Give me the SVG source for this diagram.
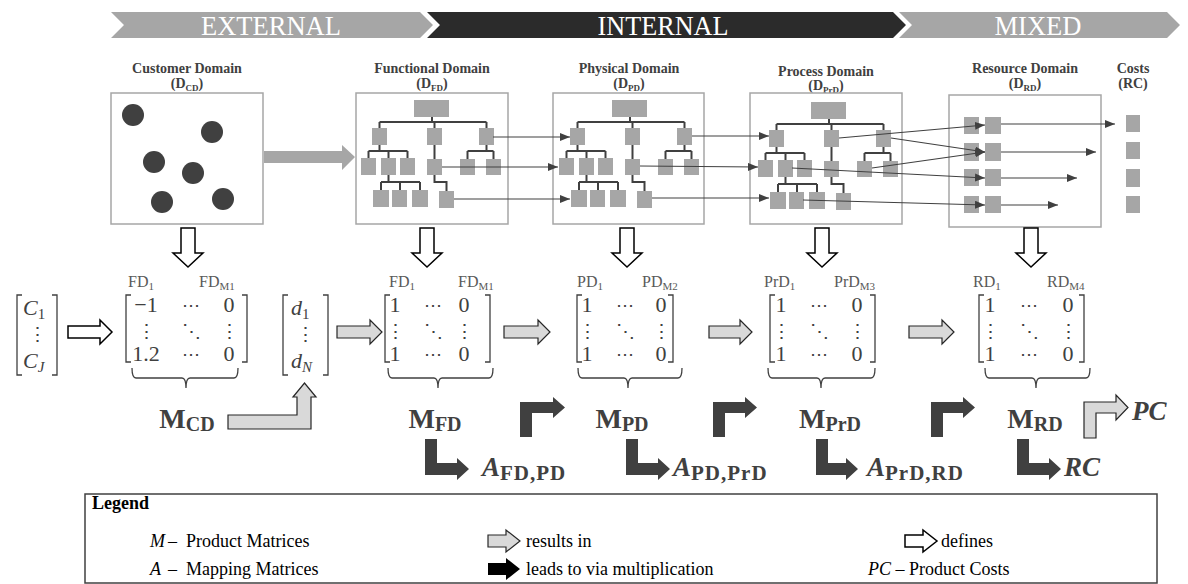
<svg xmlns="http://www.w3.org/2000/svg" width="1188" height="584" viewBox="0 0 1188 584">
<style>
.box{fill:#fff;stroke:#a6a6a6;stroke-width:1.5}
.nd{fill:#a6a6a6}
.ln{stroke:#404040;stroke-width:2;fill:none}
.ar{stroke:#404040;stroke-width:1.2;fill:none;marker-end:url(#ah)}
.hdr{font-family:"Liberation Serif",serif;font-weight:bold;font-size:14px;fill:#404040;text-anchor:middle}
.ban{font-family:"Liberation Serif",serif;font-size:28px;fill:#fff;text-anchor:middle}
.mx{font-family:"Liberation Serif","DejaVu Serif",serif;font-size:22px;fill:#404040;text-anchor:middle}
.dots{font-family:"DejaVu Serif",serif;font-size:18px;fill:#404040;text-anchor:middle}
.vd{font-family:"DejaVu Serif",serif;font-size:19px;fill:#404040;text-anchor:middle}
.vi{font-family:"Liberation Serif",serif;font-style:italic;font-size:22px;fill:#404040}
.lab{font-family:"Liberation Serif",serif;font-size:16px;fill:#595959}
.ml{font-family:"Liberation Serif",serif;font-weight:bold;font-size:28px;fill:#404040;text-anchor:middle}
.al{font-family:"Liberation Serif",serif;font-weight:bold;font-size:27px;fill:#404040}
.br{stroke:#404040;stroke-width:1.3;fill:none}
.def{fill:#fff;stroke:#000;stroke-width:1.5}
.res{fill:#d9d9d9;stroke:#262626;stroke-width:1.2}
.mul{fill:#404040}
.lg{font-family:"Liberation Serif",serif;font-size:18px;fill:#000}
</style>
<defs>
<marker id="ah" viewBox="0 0 10 8" refX="10" refY="4" markerWidth="10" markerHeight="8" markerUnits="userSpaceOnUse" orient="auto"><path d="M0,0 L10,4 L0,8 z" fill="#404040"/></marker>
<g id="tree">
<path class="ln" d="M432,117V122 M379.5,122H486.5 M379.5,122V128 M434.5,122V128 M486.5,122V128 M379.5,145V151 M368.5,151H407.5 M368.5,151V158 M388.5,151V158 M407.5,151V158 M434.5,145V159 M486.5,145V151 M467.5,151H493.5 M467.5,151V159 M493.5,151V159 M388.5,175V182 M381,182H420 M381,182V190 M400,182V190 M420,182V190 M434.5,175V182H446.5V191"/>
<rect class="nd" x="414" y="100" width="35" height="17"/>
<rect class="nd" x="372" y="128" width="15" height="17"/>
<rect class="nd" x="427" y="128" width="15" height="17"/>
<rect class="nd" x="479" y="128" width="15" height="17"/>
<rect class="nd" x="361" y="158" width="15" height="17"/>
<rect class="nd" x="381" y="158" width="15" height="17"/>
<rect class="nd" x="400" y="158" width="15" height="17"/>
<rect class="nd" x="427" y="159" width="15" height="16"/>
<rect class="nd" x="460" y="159" width="15" height="16"/>
<rect class="nd" x="486" y="159" width="15" height="16"/>
<rect class="nd" x="373" y="190" width="16" height="17"/>
<rect class="nd" x="392" y="190" width="15" height="17"/>
<rect class="nd" x="412" y="190" width="16" height="17"/>
<rect class="nd" x="439" y="191" width="15" height="17"/>
</g>
</defs>
<rect width="1188" height="584" fill="#fff"/>

<g id="banner">
<polygon points="111,12 420,12 433,25 420,38 111,38 124,25" fill="#a6a6a6"/>
<polygon points="427,12 893,12 906,25 893,38 427,38 440,25" fill="#2b2b2b"/>
<polygon points="899,12 1167,12 1180,25 1167,38 899,38 912,25" fill="#a6a6a6"/>
<text class="ban" x="271" y="35" textLength="140" lengthAdjust="spacingAndGlyphs">EXTERNAL</text>
<text class="ban" x="663" y="35" textLength="131" lengthAdjust="spacingAndGlyphs">INTERNAL</text>
<text class="ban" x="1038" y="35" textLength="87" lengthAdjust="spacingAndGlyphs">MIXED</text>
</g>

<g id="customer-domain">
<text class="hdr" x="187" y="73">Customer Domain</text>
<text class="hdr" x="187" y="88">(D<tspan font-size="9" dy="3">CD</tspan><tspan dy="-3">)</tspan></text>
<rect class="box" x="111" y="93" width="152" height="131"/>
<g fill="#404040">
<circle cx="133" cy="115" r="11"/><circle cx="212" cy="132" r="11"/><circle cx="154" cy="162" r="11"/>
<circle cx="193" cy="173" r="11"/><circle cx="162" cy="202" r="11"/><circle cx="223" cy="199" r="11"/>
</g>
</g>

<g id="functional-domain">
<text class="hdr" x="432" y="73">Functional Domain</text>
<text class="hdr" x="432" y="88">(D<tspan font-size="9" dy="3">FD</tspan><tspan dy="-3">)</tspan></text>
<rect class="box" x="356" y="93" width="152" height="131"/>
<use href="#tree"/>
</g>

<g id="physical-domain">
<text class="hdr" x="629" y="73">Physical Domain</text>
<text class="hdr" x="629" y="88">(D<tspan font-size="9" dy="3">PD</tspan><tspan dy="-3">)</tspan></text>
<rect class="box" x="553" y="93" width="151" height="131"/>
<use href="#tree" transform="translate(198,0)"/>
</g>

<g id="process-domain">
<text class="hdr" x="826" y="76">Process Domain</text>
<text class="hdr" x="826" y="90">(D<tspan font-size="9" dy="3">PrD</tspan><tspan dy="-3">)</tspan></text>
<rect class="box" x="750" y="93" width="152" height="131"/>
<use href="#tree" transform="translate(397,2)"/>
</g>

<g id="resource-domain">
<text class="hdr" x="1025" y="73">Resource Domain</text>
<text class="hdr" x="1025" y="88">(D<tspan font-size="9" dy="3">RD</tspan><tspan dy="-3">)</tspan></text>
<rect class="box" x="949" y="95" width="152" height="132"/>
<rect class="nd" x="964" y="117" width="15" height="17"/><rect class="nd" x="985" y="117" width="16" height="17"/>
<rect class="nd" x="964" y="143" width="15" height="18"/><rect class="nd" x="985" y="143" width="16" height="18"/>
<rect class="nd" x="964" y="169" width="15" height="17"/><rect class="nd" x="985" y="169" width="16" height="17"/>
<rect class="nd" x="964" y="196" width="15" height="17"/><rect class="nd" x="985" y="196" width="16" height="17"/>
</g>

<g id="costs">
<text class="hdr" x="1133" y="73">Costs</text>
<text class="hdr" x="1133" y="88">(RC)</text>
<rect class="nd" x="1126" y="115" width="14" height="17"/>
<rect class="nd" x="1126" y="142" width="14" height="17"/>
<rect class="nd" x="1126" y="169" width="14" height="18"/>
<rect class="nd" x="1126" y="196" width="14" height="17"/>
</g>

<g id="vector-c">
<path class="br" d="M22,295H17V375H22 M52,295H57V375H52"/>
<text class="vi" x="23" y="315">C<tspan font-style="normal" font-size="15" dy="4">1</tspan></text>
<text class="vd" x="37" y="341">⋮</text>
<text class="vi" x="23" y="368">C<tspan font-size="15" dy="4">J</tspan></text>
</g>

<g id="matrix-cd">
<text class="lab" x="128" y="287">FD<tspan font-size="11" dy="3">1</tspan></text>
<text class="lab" x="199" y="287">FD<tspan font-size="11" dy="3">M1</tspan></text>
<path class="br" d="M131,295H126V362H131 M242,295H247V362H242"/>
<text class="mx" x="146" y="312">−1</text><text class="dots" x="191" y="311">⋯</text><text class="mx" x="229" y="312">0</text>
<text class="vd" x="146" y="338">⋮</text><text class="vd" x="191" y="338">⋱</text><text class="vd" x="229" y="338">⋮</text>
<text class="mx" x="146" y="361">1.2</text><text class="dots" x="191" y="360">⋯</text><text class="mx" x="229" y="361">0</text>
<path class="br" d="M132,368Q132,378 136,378H182Q186,378 186,388Q186,378 190,378H234Q238,378 238,368"/>
<text class="ml" x="187" y="428">M<tspan font-size="20" dy="3">CD</tspan></text>
</g>

<g id="vector-d">
<path class="br" d="M288,295H283V375H288 M323,295H328V375H323"/>
<text class="vi" x="291" y="315">d<tspan font-style="normal" font-size="15" dy="4">1</tspan></text>
<text class="vd" x="305" y="341">⋮</text>
<text class="vi" x="291" y="368">d<tspan font-size="15" dy="4">N</tspan></text>
</g>

<g id="matrix-fd">
<text class="lab" x="389" y="287">FD<tspan font-size="11" dy="3">1</tspan></text>
<text class="lab" x="458" y="287">FD<tspan font-size="11" dy="3">M1</tspan></text>
<path class="br" d="M390,295H385V362H390 M485,295H490V362H485"/>
<text class="mx" x="395" y="312">1</text><text class="dots" x="433" y="311">⋯</text><text class="mx" x="464" y="312">0</text>
<text class="vd" x="395" y="338">⋮</text><text class="vd" x="433" y="338">⋱</text><text class="vd" x="464" y="338">⋮</text>
<text class="mx" x="395" y="361">1</text><text class="dots" x="433" y="360">⋯</text><text class="mx" x="464" y="361">0</text>
<path class="br" d="M388,368Q388,378 392,378H434Q438,378 438,388Q438,378 442,378H489Q493,378 493,368"/>
<text class="ml" x="435" y="428">M<tspan font-size="20" dy="3">FD</tspan></text>
</g>

<g id="matrix-pd">
<text class="lab" x="577" y="287">PD<tspan font-size="11" dy="3">1</tspan></text>
<text class="lab" x="642" y="287">PD<tspan font-size="11" dy="3">M2</tspan></text>
<path class="br" d="M582,295H577V362H582 M668,295H673V362H668"/>
<text class="mx" x="587" y="312">1</text><text class="dots" x="625" y="311">⋯</text><text class="mx" x="661" y="312">0</text>
<text class="vd" x="587" y="338">⋮</text><text class="vd" x="625" y="338">⋱</text><text class="vd" x="661" y="338">⋮</text>
<text class="mx" x="587" y="361">1</text><text class="dots" x="625" y="360">⋯</text><text class="mx" x="661" y="361">0</text>
<path class="br" d="M578,368Q578,378 582,378H624Q628,378 628,388Q628,378 632,378H678Q682,378 682,368"/>
<text class="ml" x="622" y="428">M<tspan font-size="20" dy="3">PD</tspan></text>
</g>

<g id="matrix-prd">
<text class="lab" x="764" y="287">PrD<tspan font-size="11" dy="3">1</tspan></text>
<text class="lab" x="834" y="287">PrD<tspan font-size="11" dy="3">M3</tspan></text>
<path class="br" d="M775,295H770V362H775 M870,295H875V362H870"/>
<text class="mx" x="781" y="312">1</text><text class="dots" x="819" y="311">⋯</text><text class="mx" x="857" y="312">0</text>
<text class="vd" x="781" y="338">⋮</text><text class="vd" x="819" y="338">⋱</text><text class="vd" x="857" y="338">⋮</text>
<text class="mx" x="781" y="361">1</text><text class="dots" x="819" y="360">⋯</text><text class="mx" x="857" y="361">0</text>
<path class="br" d="M768,368Q768,378 772,378H817Q821,378 821,388Q821,378 825,378H871Q875,378 875,368"/>
<text class="ml" x="830" y="428">M<tspan font-size="20" dy="3">PrD</tspan></text>
</g>

<g id="matrix-rd">
<text class="lab" x="973" y="287">RD<tspan font-size="11" dy="3">1</tspan></text>
<text class="lab" x="1047" y="287">RD<tspan font-size="11" dy="3">M4</tspan></text>
<path class="br" d="M984,295H979V362H984 M1079,295H1084V362H1079"/>
<text class="mx" x="990" y="312">1</text><text class="dots" x="1029" y="311">⋯</text><text class="mx" x="1068" y="312">0</text>
<text class="vd" x="990" y="338">⋮</text><text class="vd" x="1029" y="338">⋱</text><text class="vd" x="1068" y="338">⋮</text>
<text class="mx" x="990" y="361">1</text><text class="dots" x="1029" y="360">⋯</text><text class="mx" x="1068" y="361">0</text>
<path class="br" d="M985,368Q985,378 989,378H1032Q1036,378 1036,388Q1036,378 1040,378H1086Q1090,378 1090,368"/>
<text class="ml" x="1035" y="428">M<tspan font-size="20" dy="3">RD</tspan></text>
</g>

<g id="results">
<text class="al" x="482" y="476"><tspan font-style="italic">A</tspan><tspan font-size="21" dy="4" letter-spacing="1">FD,PD</tspan></text>
<text class="al" x="673" y="476"><tspan font-style="italic">A</tspan><tspan font-size="21" dy="4" letter-spacing="1">PD,PrD</tspan></text>
<text class="al" x="867" y="476"><tspan font-style="italic">A</tspan><tspan font-size="21" dy="4" letter-spacing="1">PrD,RD</tspan></text>
<text class="al" x="1064" y="476" font-style="italic">RC</text>
<text class="al" x="1132" y="420" font-style="italic">PC</text>
</g>

<g id="connectors">
<polygon points="264,151 342,151 342,145 355,157 342,170 342,163 264,163" fill="#a6a6a6"/>
<path class="ar" d="M493,137H570"/>
<path class="ar" d="M442,167H558"/>
<path class="ar" d="M454,199H570"/>
<path class="ar" d="M692,136H769"/>
<path class="ar" d="M640,166L758,167"/>
<path class="ar" d="M652,198H769"/>
<path class="ar" d="M839,138L985,125"/>
<path class="ar" d="M891,138L985,152"/>
<path class="ar" d="M872,168L985,152"/>
<path class="ar" d="M792,168L985,178"/>
<path class="ar" d="M803,200L985,205"/>
<path class="ar" d="M1001,124H1115"/>
<path class="ar" d="M1001,152H1096"/>
<path class="ar" d="M1001,178H1077"/>
<path class="ar" d="M1001,205H1058"/>
<polygon class="def" points="181,228 195,228 195,253 203,253 188,267 173,253 181,253"/>
<polygon class="def" points="420,228 434,228 434,253 442,253 427,267 412,253 420,253"/>
<polygon class="def" points="620,228 634,228 634,253 642,253 627,267 612,253 620,253"/>
<polygon class="def" points="815,228 829,228 829,253 837,253 822,267 807,253 815,253"/>
<polygon class="def" points="1024,228 1038,228 1038,253 1046,253 1031,267 1016,253 1024,253"/>
<polygon class="def" points="68,326 100,326 100,320 112,332 100,344 100,338 68,338"/>
<polygon class="res" points="337,326 370,326 370,320 382,332 370,344 370,338 337,338"/>
<polygon class="res" points="504,326 538,326 538,320 550,332 538,344 538,338 504,338"/>
<polygon class="res" points="709,326 740,326 740,320 752,332 740,344 740,338 709,338"/>
<polygon class="res" points="909,326 942,326 942,320 954,332 942,344 942,338 909,338"/>
<polygon class="res" points="228,415 297,415 297,397 293,397 304.5,383 316,397 311,397 311,429 228,429"/>
<polygon class="mul" points="520,437 520,402 553,402 553,397 565,407.5 553,418 553,413 532,413 532,437"/>
<polygon class="mul" points="713,437 713,402 745,402 745,397 757,407.5 745,418 745,413 725,413 725,437"/>
<polygon class="mul" points="931,437 931,402 963,402 963,397 975,407.5 963,418 963,413 943,413 943,437"/>
<polygon class="res" points="1084,438 1084,402 1116,402 1116,395 1128,407.5 1116,420 1116,413 1096,413 1096,438"/>
<polygon class="mul" points="425,439 437,439 437,463 457,463 457,458 469,469 457,480 457,475 425,475"/>
<polygon class="mul" points="626,439 638,439 638,463 658,463 658,458 670,469 658,480 658,475 626,475"/>
<polygon class="mul" points="816,439 828,439 828,463 846,463 846,458 858,469 846,480 846,475 816,475"/>
<polygon class="mul" points="1017,439 1029,439 1029,463 1049,463 1049,458 1061,469 1049,480 1049,475 1017,475"/>
</g>

<g id="legend">
<rect x="85" y="494" width="1072" height="89" fill="#fff" stroke="#404040" stroke-width="1.5"/>
<text class="lg" x="92" y="509" font-weight="bold">Legend</text>
<text class="lg" x="150" y="547" font-style="italic">M</text>
<text class="lg" x="168" y="547">–</text>
<text class="lg" x="186" y="547">Product Matrices</text>
<text class="lg" x="150" y="575" font-style="italic">A</text>
<text class="lg" x="168" y="575">–</text>
<text class="lg" x="186" y="575">Mapping Matrices</text>
<polygon class="res" points="488,535 506,535 506,530 520,541 506,552 506,547 488,547"/>
<text class="lg" x="526" y="547">results in</text>
<polygon points="488,563 506,563 506,558 520,569 506,580 506,575 488,575" fill="#000"/>
<text class="lg" x="526" y="575">leads to via multiplication</text>
<polygon class="def" points="905,535 923,535 923,530 937,541 923,552 923,547 905,547"/>
<text class="lg" x="941" y="547">defines</text>
<text class="lg" x="868" y="575"><tspan font-style="italic">PC</tspan> – Product Costs</text>
</g>
</svg>
